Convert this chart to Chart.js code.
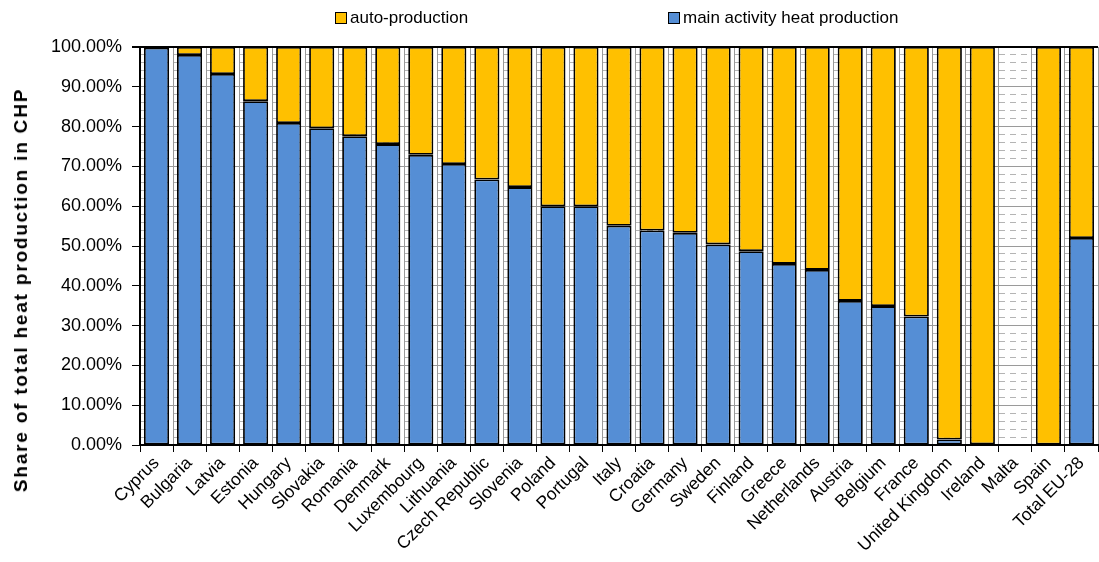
<!DOCTYPE html>
<html>
<head>
<meta charset="utf-8">
<script src="https://cdn.jsdelivr.net/npm/chart.js@4.4.1/dist/chart.umd.min.js"></script>
<style>
  html, body { margin:0; padding:0; background:#fff; }
  #wrap { position:relative; width:1099px; height:562px; font-family:"Liberation Sans", Arial, sans-serif; }
  #legend { position:absolute; top:7px; left:0; width:1099px; height:24px; font-size:17px; color:#000; }
  .item { position:absolute; top:0; line-height:22px; white-space:nowrap; }
  .box { display:inline-block; width:10px; height:10px; border:1px solid #000; margin-right:3px; vertical-align:-1px; }
  #ytitle { position:absolute; left:21px; top:290px; transform:translate(-50%,-50%) rotate(-90deg);
    white-space:nowrap; font-size:19px; letter-spacing:1.8px; font-weight:bold; color:#000; }
  canvas { position:absolute; left:0; top:0; }
</style>
</head>
<body>
<div id="wrap">
  <canvas id="c" width="1099" height="562"></canvas>
  <div id="legend"></div>
  <div id="ytitle">Share of total heat production in CHP</div>
</div>
<script>
// Data
const countries = ["Cyprus","Bulgaria","Latvia","Estonia","Hungary","Slovakia","Romania","Denmark",
  "Luxembourg","Lithuania","Czech Republic","Slovenia","Poland","Portugal","Italy","Croatia",
  "Germany","Sweden","Finland","Greece","Netherlands","Austria","Belgium","France",
  "United Kingdom","Ireland","Malta","Spain","Total EU-28"];
const mainActivity = [99.8,98.0,93.2,86.4,80.9,79.6,77.6,75.6,72.9,70.6,66.7,64.8,60.0,60.0,55.1,53.9,
  53.3,50.4,48.7,45.5,44.0,36.2,34.9,32.3,1.4,0.2,null,0.1,52.0];
const autoProduction = [0.2,2.0,6.8,13.6,19.1,20.4,22.4,24.4,27.1,29.4,33.3,35.2,40.0,40.0,44.9,46.1,
  46.7,49.6,51.3,54.5,56.0,63.8,65.1,67.7,98.6,99.8,null,99.9,48.0];
const seriesNames = ["main activity heat production","auto-production"];
const seriesColors = ["#558ED5","#FFC000"];

// HTML legend (auto-production listed first)
const legend = document.getElementById("legend");
[[1, 335],[0, 668]].forEach(([i, x]) => {
  const d = document.createElement("div");
  d.className = "item";
  d.style.left = x + "px";
  d.innerHTML = `<span class="box" style="background:${seriesColors[i]}"></span>${seriesNames[i]}`;
  legend.appendChild(d);
});

const fam = "'Liberation Sans', Arial, sans-serif";
const isMajor = v => Math.abs(v % 10) < 1e-6;
const tv = ctx => ctx.tick ? ctx.tick.value : 0;

new Chart(document.getElementById("c"), {
  type: "bar",
  data: {
    labels: countries,
    datasets: [
      { label: seriesNames[0], data: mainActivity, backgroundColor: seriesColors[0],
        borderColor:"#000", borderWidth:1.8, borderSkipped:false },
      { label: seriesNames[1], data: autoProduction, backgroundColor: seriesColors[1],
        borderColor:"#000", borderWidth:1.8, borderSkipped:false }
    ]
  },
  options: {
    responsive:false, animation:false,
    layout:{ padding:{ top:47, right:1, left:0, bottom:0 } },
    plugins:{ legend:{ display:false }, tooltip:{ enabled:false } },
    datasets:{ bar:{ categoryPercentage:0.76, barPercentage:1 } },
    scales:{
      x:{
        stacked:true,
        afterFit: s => { s.height = 117; },
        ticks:{ color:"#000", font:{ family:fam, size:17.5 }, minRotation:45, maxRotation:45, autoSkip:false, padding:1 },
        grid:{ offset:true, color:"#9a9a9a", tickColor:"#000", tickLength:7, lineWidth:1 },
        border:{ color:"#000", width:2 }
      },
      y:{
        stacked:true, min:0, max:100,
        afterFit: s => { s.width = 140; },
        ticks:{ stepSize:2, autoSkip:false, color:"#000", font:{ family:fam, size:18 }, padding:10,
          callback: v => isMajor(v) ? v.toFixed(2) + "%" : "" },
        grid:{
          color: ctx => tv(ctx) === 100 ? "#000" : (isMajor(tv(ctx)) ? "#9a9a9a" : "#b4b4b4"),
          lineWidth: ctx => tv(ctx) === 100 ? 2 : 1,
          tickColor: ctx => isMajor(tv(ctx)) ? "#000" : "rgba(0,0,0,0)",
          tickLength:8
        },
        border:{ color:"#000", width:2, dash: ctx => isMajor(tv(ctx)) ? [] : [6,5] }
      }
    }
  }
});
</script>
</body>
</html>
